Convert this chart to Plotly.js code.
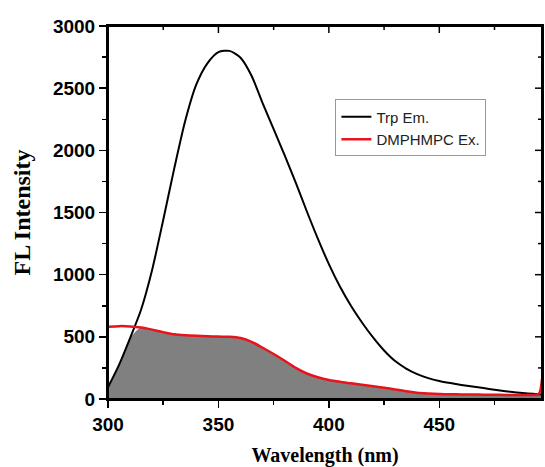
<!DOCTYPE html>
<html>
<head>
<meta charset="utf-8">
<script src="https://cdn.plot.ly/plotly-3.0.1.min.js"></script>
<style>
  html, body { margin: 0; padding: 0; background: #fff; }
  #chart { width: 545px; height: 467px; }
</style>
</head>
<body>
<div id="chart"></div>
<script>
// Wavelength grid shared by both spectra (nm)
const wavelength = [300, 305, 310, 315, 320, 325, 330, 335, 340, 345, 350, 355, 360, 365, 370,
  375, 380, 385, 390, 395, 400, 405, 410, 415, 420, 425, 430, 435, 440, 445, 450, 455, 460, 465,
  470, 475, 480, 485, 490, 495, 496.5];

// Tryptophan emission spectrum
const trpEm = [95, 275, 490, 720, 1040, 1440, 1855, 2240, 2530, 2700, 2790, 2800, 2745, 2600, 2380,
  2170, 1960, 1740, 1510, 1290, 1085, 905, 750, 615, 495, 390, 305, 245, 200, 168, 145, 128, 113, 100,
  88, 74, 62, 52, 45, 38, 36];

// DMPHMPC excitation spectrum
const dmphmpcEx = [581, 586, 584, 575, 558, 538, 520, 512, 508, 505, 502, 500, 490, 460, 412,
  362, 308, 250, 205, 175, 153, 138, 126, 114, 102, 90, 77, 63, 50, 44, 40, 38, 37, 36,
  35, 34, 33, 32, 33, 40, 160];

const seriesNames = ['Trp Em.', 'DMPHMPC Ex.'];
const xTickVals = [300, 350, 400, 450];
const yTickVals = [0, 500, 1000, 1500, 2000, 2500, 3000];

// Spectral overlap region: the lower of the two curves at each wavelength
const overlap = wavelength.map((_, i) => Math.min(trpEm[i], dmphmpcEx[i]));

const xRange = [300, 496.5];
const yRange = [0, 3000];
const xMinorStep = 25;
const yMinorStep = 250;

const traces = [
  {
    x: wavelength, y: overlap, type: 'scatter', mode: 'lines',
    line: { width: 0, shape: 'spline', smoothing: 0.7 },
    fill: 'tozeroy', fillcolor: '#808080', showlegend: false, hoverinfo: 'skip'
  },
  {
    x: wavelength, y: trpEm, type: 'scatter', mode: 'lines', name: seriesNames[0],
    line: { color: '#000000', width: 2, shape: 'spline', smoothing: 0.7 }
  },
  {
    x: wavelength, y: dmphmpcEx, type: 'scatter', mode: 'lines', name: seriesNames[1],
    line: { color: '#e8141c', width: 2.5, shape: 'spline', smoothing: 0.7 }
  }
];

// Plot frame, plus inward ticks along its top and right sides
const tickLine = { color: '#000', width: 1.5 };
const shapes = [
  { type: 'rect', xref: 'paper', yref: 'paper', x0: 0, x1: 1, y0: 0, y1: 1,
    line: { color: '#000', width: 2 }, fillcolor: 'rgba(0,0,0,0)', layer: 'above' }
];
for (let v = xRange[0]; v <= xRange[1]; v += xMinorStep) {
  const len = xTickVals.includes(v) ? 7 : 4;
  shapes.push({ type: 'line', xref: 'x', yref: 'paper', ysizemode: 'pixel', yanchor: 1,
    x0: v, x1: v, y0: 0, y1: -len, line: tickLine, layer: 'above' });
}
for (let v = yRange[0] + yMinorStep; v < yRange[1]; v += yMinorStep) {
  const len = yTickVals.includes(v) ? 7 : 4;
  shapes.push({ type: 'line', xref: 'paper', yref: 'y', xsizemode: 'pixel', xanchor: 1,
    x0: 0, x1: -len, y0: v, y1: v, line: tickLine, layer: 'above' });
}

const tickFont = { family: 'Liberation Sans, Arial, sans-serif', size: 19, color: '#000', weight: 'bold' };
const tickStyle = { ticklen: 7, tickwidth: 1.5, tickcolor: '#000' };
const lineStyle = { showline: true, mirror: true, linecolor: '#000', linewidth: 2, showgrid: false, zeroline: false, fixedrange: true, layer: 'above traces' };

const layout = {
  width: 545, height: 467,
  margin: { l: 108, r: 3, t: 26, b: 68 },
  paper_bgcolor: '#fff', plot_bgcolor: '#fff',
  showlegend: true,
  legend: {
    x: 0.524, y: 0.803, xanchor: 'left', yanchor: 'top',
    bgcolor: '#fff', bordercolor: '#999', borderwidth: 1,
    font: { family: 'Liberation Sans, Arial, sans-serif', size: 15, color: '#222' },
    tracegroupgap: 0, itemwidth: 30
  },
  xaxis: Object.assign({
    range: xRange, tickvals: xTickVals, ticktext: xTickVals.map(String), ticks: 'outside',
    minor: Object.assign({ ticks: 'outside', dtick: xMinorStep, tick0: xRange[0] }, tickStyle, { ticklen: 4 }),
    tickfont: tickFont,
    title: { text: 'Wavelength (nm)', font: { family: 'Liberation Serif, Times New Roman, serif', size: 20, color: '#000', weight: 'bold' }, standoff: 18 },
    automargin: false
  }, tickStyle, lineStyle),
  yaxis: Object.assign({
    range: yRange, tickvals: yTickVals, ticktext: yTickVals.map(String), ticks: 'outside',
    minor: Object.assign({ ticks: 'outside', dtick: yMinorStep, tick0: yRange[0] }, tickStyle, { ticklen: 4 }),
    tickfont: tickFont,
    title: { text: 'FL Intensity', font: { family: 'Liberation Serif, Times New Roman, serif', size: 24, color: '#000', weight: 'bold' }, standoff: 16 },
    automargin: false
  }, tickStyle, lineStyle),
  shapes: shapes
};

Plotly.newPlot('chart', traces, layout, { displayModeBar: false, staticPlot: true });
</script>
</body>
</html>
